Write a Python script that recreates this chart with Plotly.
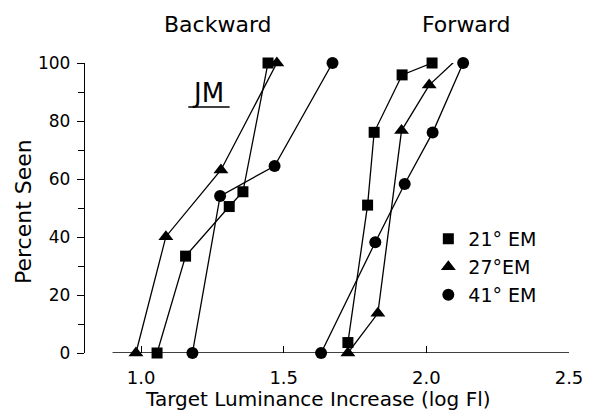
import plotly.graph_objects as go

# ---- data ----
series_names = ["21° EM", "27°EM", "41° EM"]
symbols = ["square", "triangle-up", "circle"]

# Backward masking curves
bw_21_x = [1.056, 1.156, 1.309, 1.357, 1.445]
bw_21_y = [0, 33.4, 50.5, 55.6, 100]
bw_27_x = [0.982, 1.087, 1.280, 1.476]
bw_27_y = [0, 40.1, 63.1, 100]
bw_41_x = [1.180, 1.277, 1.468, 1.671]
bw_41_y = [0, 54.1, 64.5, 100]

# Forward masking curves
fw_21_x = [1.725, 1.794, 1.817, 1.915, 2.020]
fw_21_y = [3.6, 51.0, 76.1, 95.9, 100]
fw_27_x = [1.725, 1.830, 1.913, 2.010, 2.104]
fw_27_y = [0, 13.7, 76.7, 92.4, 101]
fw_41_x = [1.631, 1.821, 1.924, 2.022, 2.129]
fw_41_y = [0, 38.2, 58.3, 76.0, 100]

x_ticks = [1.0, 1.5, 2.0, 2.5]
x_tick_labels = ["1.0", "1.5", "2.0", "2.5"]
y_ticks = [0, 20, 40, 60, 80, 100]

FONT = "DejaVu Sans"
BLACK = "black"

# page offset (body margin) -> work in page pixel coords
OFF = 8
L, T, PW, PH = 85, 63, 492, 290  # plot area in page coords


def px(xp):
    return (xp - L) / PW


def py(yp):
    return (T + PH - yp) / PH


curves = [
    (bw_21_x, bw_21_y, fw_21_x, fw_21_y, 11),
    (bw_27_x, bw_27_y, fw_27_x, fw_27_y, 13),
    (bw_41_x, bw_41_y, fw_41_x, fw_41_y, 12),
]
legend_ids = ["legend", "legend2", "legend3"]
legend_rows = [239, 267, 295]

fig = go.Figure()
for (bx, by, fx, fy, size), sym, name, lid in zip(curves, symbols, series_names, legend_ids):
    fig.add_trace(go.Scatter(
        x=bx + [None] + fx, y=by + [None] + fy,
        mode="lines+markers", connectgaps=False,
        line=dict(color=BLACK, width=1.3),
        marker=dict(symbol=sym, size=size, color=BLACK),
        showlegend=False, cliponaxis=False,
    ))
    fig.add_trace(go.Scatter(
        x=[None], y=[None], mode="markers", name=name,
        marker=dict(symbol=sym, size=size, color=BLACK),
        showlegend=True, legend=lid,
    ))

legend_common = dict(xanchor="left", yanchor="middle",
                     bgcolor="rgba(0,0,0,0)", font=dict(size=19),
                     itemwidth=30)
legends = {}
for lid, row in zip(legend_ids, legend_rows):
    legends[lid] = dict(x=px(434), y=py(row), **legend_common)

fig.update_layout(
    width=595 - OFF, height=417 - OFF,
    margin=dict(l=L - OFF, r=595 - L - PW, t=T - OFF, b=417 - T - PH),
    paper_bgcolor="white", plot_bgcolor="white",
    font=dict(family=FONT, size=17, color=BLACK),
    showlegend=True,
    xaxis=dict(range=[2.5 - PW / 290, 2.5], showgrid=False, zeroline=False,
               showline=False, tickvals=x_ticks, ticktext=x_tick_labels,
               ticks="inside", ticklen=7, tickwidth=1.3, tickcolor=BLACK,
               tickfont=dict(size=18), ticklabelstandoff=12),
    yaxis=dict(range=[0, 100], showgrid=False, zeroline=False,
               showline=True, linecolor=BLACK, linewidth=1.3,
               tickvals=y_ticks, ticks="outside", ticklen=7, tickwidth=1.3,
               tickcolor=BLACK, tickfont=dict(size=17), ticklabelstandoff=3,
               minor=dict(dtick=10, ticks="outside", ticklen=6,
                          tickwidth=1.3, tickcolor=BLACK)),
    shapes=[
        dict(type="line", xref="x", yref="y", x0=0.9, x1=2.5, y0=0, y1=0,
             line=dict(color=BLACK, width=1.3), layer="below"),
        dict(type="line", xref="paper", yref="paper",
             x0=px(190), x1=px(232), y0=py(107), y1=py(107),
             line=dict(color=BLACK, width=1.6)),
    ],
    annotations=[
        dict(text="Backward", x=px(220), y=py(24),
             xref="paper", yref="paper", showarrow=False,
             font=dict(size=22), xanchor="center", yanchor="middle"),
        dict(text="Forward", x=px(472), y=py(24),
             xref="paper", yref="paper", showarrow=False,
             font=dict(size=22), xanchor="center", yanchor="middle"),
        dict(text="JM", x=px(210), y=py(93),
             xref="paper", yref="paper", showarrow=False,
             font=dict(size=26), xanchor="center", yanchor="middle"),
        dict(text="Target Luminance Increase (log Fl)", x=px(322), y=py(399),
             xref="paper", yref="paper", showarrow=False,
             font=dict(size=20), xanchor="center", yanchor="middle"),
        dict(text="Percent Seen", x=px(22), y=py(212), textangle=-90,
             xref="paper", yref="paper", showarrow=False,
             font=dict(size=22), xanchor="center", yanchor="middle"),
    ],
    **legends,
)

fig.write_html("out.html")
